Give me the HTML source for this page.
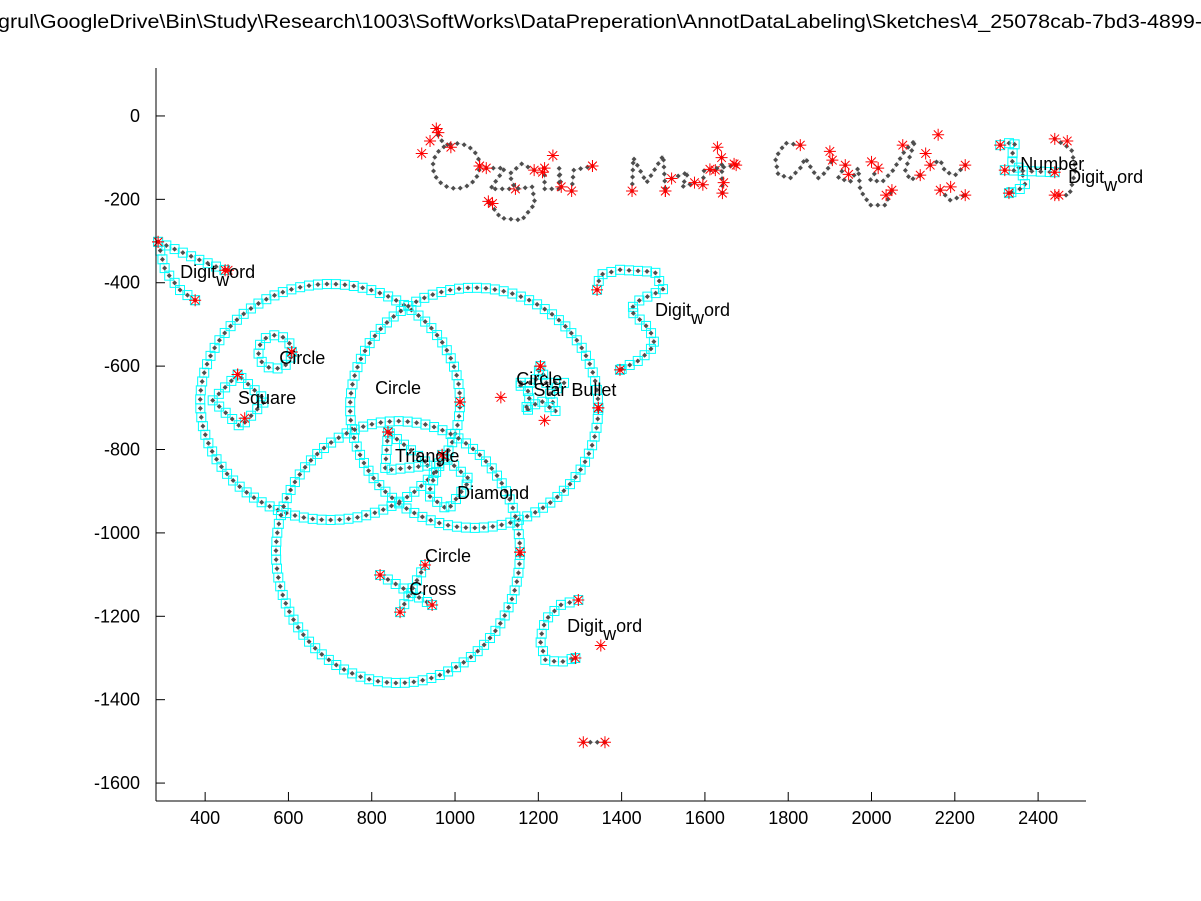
<!DOCTYPE html>
<html><head><meta charset="utf-8">
<style>
html,body{margin:0;padding:0;background:#fff;}
svg{display:block;font-family:"Liberation Sans",Arial,sans-serif;}
</style></head>
<body>
<svg id="chart" width="1201" height="901" viewBox="0 0 1201 901" xmlns="http://www.w3.org/2000/svg">
<rect x="0" y="0" width="1201" height="901" fill="#fff"/>
<text x="-2" y="28" font-size="19" fill="#000" textLength="1204" lengthAdjust="spacingAndGlyphs">grul\GoogleDrive\Bin\Study\Research\1003\SoftWorks\DataPreperation\AnnotDataLabeling\Sketches\4_25078cab-7bd3-4899-</text>
<g id="marks"></g>
<g id="labels"></g>
<g id="axes"></g>
</svg>
<script>
// ---- axis domain ----
const xDomain = [282, 2515];
const yDomain = [-1643, 115];
const xTicks = [400, 600, 800, 1000, 1200, 1400, 1600, 1800, 2000, 2200, 2400];
const yTicks = [0, -200, -400, -600, -800, -1000, -1200, -1400, -1600];

// ---- ellipse strokes (data units) ----
const ellCx = [700, 1046, 863, 568, 1003];
const ellCy = [-686, -700, -1046, -566, -120];
const ellRx = [312, 298, 293, 40, 56];
const ellRy = [283, 288, 314, 40, 54];
const ellStyle = ['cyan', 'cyan', 'cyan', 'cyan', 'hand'];

// ---- polyline strokes (data units) ----
const strokes = [
  {style:'cyan', pts:[[287,-302],[388,-346],[448,-370]]},
  {style:'cyan', pts:[[287,-302],[304,-370],[340,-418],[376,-442]]},
  {style:'cyan', pts:[[478,-620],[418,-682],[485,-746],[545,-682],[478,-620]]},
  {style:'cyan', pts:[[1205,-600],[1218,-640],[1262,-640],[1228,-665],[1242,-710],[1205,-682],[1168,-710],[1182,-665],[1148,-640],[1192,-640],[1205,-600]]},
  {style:'cyan', pts:[[839,-758],[832,-850],[940,-838],[839,-758]]},
  {style:'cyan', pts:[[969,-813],[935,-909],[983,-945],[1036,-873],[969,-813]]},
  {style:'cyan', pts:[[820,-1101],[945,-1173]]},
  {style:'cyan', pts:[[868,-1190],[928,-1077]]},
  {style:'cyan', pts:[[1341,-417],[1348,-381],[1396,-369],[1480,-374],[1500,-417],[1444,-441],[1420,-465],[1468,-513],[1480,-549],[1444,-585],[1396,-609]]},
  {style:'cyan', pts:[[1296,-1161],[1253,-1173],[1217,-1209],[1204,-1257],[1217,-1305],[1253,-1310],[1289,-1300]]},
  {style:'hand', pts:[[1308,-1502],[1360,-1502]]},
  {style:'cyan', pts:[[2309,-70],[2345,-62],[2335,-106],[2360,-130],[2370,-170],[2330,-185]]},
  {style:'cyan', pts:[[2320,-130],[2440,-135]]},
  {style:'hand', pts:[[2440,-55],[2480,-80],[2490,-130],[2475,-190],[2450,-190]]},
  // handwriting
  {style:'hand', pts:[[955,-30],[962,-55],[990,-75]]},
  {style:'hand', pts:[[1075,-125],[1120,-125],[1085,-175],[1145,-175]]},
  {style:'hand', pts:[[1190,-130],[1160,-115],[1130,-140],[1145,-175],[1185,-170],[1192,-210],[1160,-250],[1110,-245],[1080,-205]]},
  {style:'hand', pts:[[1215,-125],[1215,-175],[1250,-175],[1250,-125],[1255,-170]]},
  {style:'hand', pts:[[1280,-180],[1285,-130],[1330,-120]]},
  {style:'hand', pts:[[1425,-180],[1428,-100],[1460,-160],[1500,-95],[1505,-180]]},
  {style:'hand', pts:[[1520,-150],[1560,-135],[1545,-170],[1575,-160]]},
  {style:'hand', pts:[[1595,-165],[1598,-130],[1625,-130]]},
  {style:'hand', pts:[[1640,-100],[1642,-185]]},
  {style:'hand', pts:[[1612,-128],[1675,-118]]},
  {style:'hand', pts:[[1829,-70],[1793,-65],[1769,-101],[1776,-141],[1805,-149],[1829,-125],[1841,-101],[1858,-130],[1872,-149],[1891,-134],[1906,-106]]},
  {style:'hand', pts:[[1937,-118],[1920,-149],[1949,-158],[1968,-125],[1973,-178],[1997,-214],[2033,-214],[2049,-178]]},
  {style:'hand', pts:[[2016,-125],[1997,-154],[2026,-158],[2052,-130],[2081,-82],[2105,-58],[2081,-130],[2093,-154],[2117,-142]]},
  {style:'hand', pts:[[2141,-118],[2165,-106],[2177,-134],[2201,-142],[2225,-118]]},
  {style:'hand', pts:[[2165,-178],[2189,-202],[2225,-190]]}
];

// ---- extra corner/stroke points marked with red asterisks ----
const starX = [920,960,940,1090,1235,1210,1330,1505,1630,1645,1670,1900,1945,2000,2035,2075,2130,2160,2190,1350,1215,1110,495,455,2470,2440];
const starY = [-90,-40,-60,-210,-95,-135,-120,-180,-75,-160,-115,-85,-140,-110,-190,-70,-90,-45,-170,-1270,-730,-675,-725,-370,-60,-190];

// ---- labels ----
const labelText = ['Digit|word','Circle','Square','Circle','Circle','Star Bullet','Triangle','Diamond','Circle','Cross','Digit|word','Digit|word','Number','Digit|word'];
const labelX = [340,578,479,808,1147,1188,856,1005,928,890,1480,1269,2357,2472];
const labelY = [-374,-581,-677,-653,-631,-657,-816,-904,-1056,-1135,-465,-1223,-115,-146];

// ---- plot area ----
const L = 156, R = 1086, T = 68, B = 801;
const sx = v => L + (v - xDomain[0]) / (xDomain[1] - xDomain[0]) * (R - L);
const sy = v => B - (v - yDomain[0]) / (yDomain[1] - yDomain[0]) * (B - T);
const NS = 'http://www.w3.org/2000/svg';
const marks = document.getElementById('marks');
const labels = document.getElementById('labels');
const axes = document.getElementById('axes');
function mk(tag, attrs, parent) {
  const e = document.createElementNS(NS, tag);
  for (const k in attrs) e.setAttribute(k, attrs[k]);
  parent.appendChild(e);
  return e;
}

function samplePx(pxPts, spacing) {
  const out = [pxPts[0]];
  let carry = 0;
  for (let i = 1; i < pxPts.length; i++) {
    const [x0, y0] = pxPts[i-1], [x1, y1] = pxPts[i];
    const d = Math.hypot(x1-x0, y1-y0);
    let t = spacing - carry;
    while (t <= d) { out.push([x0 + (x1-x0)*t/d, y0 + (y1-y0)*t/d]); t += spacing; }
    carry = d - (t - spacing);
  }
  out.push(pxPts[pxPts.length-1]);
  return out;
}

function drawStroke(pxPts, style, name) {
  const g = mk('g', {}, marks);
  
  
  mk('polyline', {points: pxPts.map(p => p.join(',')).join(' '), fill: 'none', stroke: '#e2e2e2', 'stroke-width': 1}, g);
  const pts = samplePx(pxPts, style === 'cyan' ? 9 : 7);
  pts.forEach(([x, y]) => {
    if (style === 'cyan') mk('rect', {x: x-4.5, y: y-4.5, width: 9, height: 9, fill: 'none', stroke: '#00ffff', 'stroke-width': 1}, g);
    mk('path', {d: `M${x} ${y-2.5}L${x+2.5} ${y}L${x} ${y+2.5}L${x-2.5} ${y}Z`, fill: '#4d4d4d'}, g);
  });
  drawStar(pxPts[0][0], pxPts[0][1]);
  drawStar(pxPts[pxPts.length-1][0], pxPts[pxPts.length-1][1]);
}

function drawStar(x, y) {
  const r = 6, q = 4.3;
  const p = mk('path', {d: `M${x-r} ${y}H${x+r}M${x} ${y-r}V${y+r}M${x-q} ${y-q}L${x+q} ${y+q}M${x-q} ${y+q}L${x+q} ${y-q}`, stroke: '#ff0000', 'stroke-width': 1, fill: 'none'}, marks);
  
  
}

// ellipses
for (let i = 0; i < ellCx.length; i++) {
  const pts = [];
  for (let a = 0; a <= 360; a += 3) {
    const r = a * Math.PI / 180;
    pts.push([sx(ellCx[i] + ellRx[i]*Math.cos(r)), sy(ellCy[i] + ellRy[i]*Math.sin(r))]);
  }
  drawStroke(pts, ellStyle[i], 'ellipse-stroke-' + i);
}
// polylines
strokes.forEach((s, i) => drawStroke(s.pts.map(p => [sx(p[0]), sy(p[1])]), s.style, 'stroke-' + i));
// extra stars
for (let i = 0; i < starX.length; i++) drawStar(sx(starX[i]), sy(starY[i]));

// labels
for (let i = 0; i < labelText.length; i++) {
  const t = mk('text', {x: sx(labelX[i]), y: sy(labelY[i]) + 6, 'font-size': 18, fill: '#000'}, labels);
  
  
  const parts = labelText[i].split('|');
  if (parts.length === 1) t.textContent = parts[0];
  else {
    const a = mk('tspan', {}, t); a.textContent = parts[0];
    const b = mk('tspan', {dy: 8}, t); b.textContent = parts[1][0];
    const c = mk('tspan', {dy: -8}, t); c.textContent = parts[1].slice(1);
  }
}

// axes
const xa = mk('line', {x1: L, y1: B, x2: R, y2: B, stroke: '#000', 'stroke-width': 1}, axes);


const ya = mk('line', {x1: L, y1: T, x2: L, y2: B, stroke: '#000', 'stroke-width': 1}, axes);


xTicks.forEach(v => {
  mk('line', {x1: sx(v), y1: B, x2: sx(v), y2: B-9, stroke: '#000'}, axes);
  const t = mk('text', {x: sx(v), y: B + 23, 'font-size': 18, 'text-anchor': 'middle'}, axes);
  
  
  t.textContent = v;
});
yTicks.forEach(v => {
  mk('line', {x1: L, y1: sy(v), x2: L+9, y2: sy(v), stroke: '#000'}, axes);
  const t = mk('text', {x: L - 16, y: sy(v) + 6, 'font-size': 18, 'text-anchor': 'end'}, axes);
  
  
  t.textContent = v;
});
</script>
</body></html>
